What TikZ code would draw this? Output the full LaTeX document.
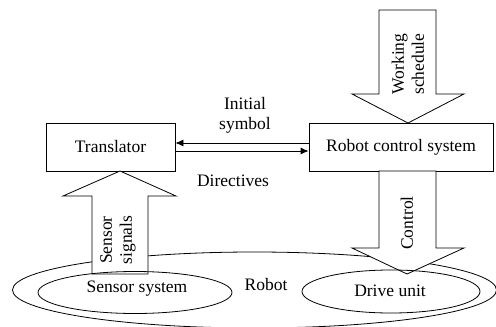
\documentclass[tikz,border=0pt]{standalone}
\usepackage{fontspec}
\setmainfont{Liberation Serif}
\usetikzlibrary{arrows.meta}
\begin{document}
\begin{tikzpicture}[x=1pt,y=-1pt,line width=0.8pt,
  font=\fontsize{17.5}{20}\selectfont,
  box/.style={draw,rectangle,inner sep=0pt,minimum height=48pt,fill=white},
  blockarrow/.style={draw,fill=white,line join=miter},
  lab/.style={inner sep=0pt,align=center},
  link/.style={-{Latex[length=8pt,width=7pt]}}]
\useasboundingbox (0,0) rectangle (496,327);
% outer robot ellipse
\draw (254.5,290) ellipse [x radius=242, y radius=38];
\node[lab] (robot) at (266,285) {Robot};
% boxes
\node[box,minimum width=129pt] (tr) at (110.5,147) {Translator};
\node[box,minimum width=184pt] (rcs) at (401,147) {Robot control system};
% block arrows
\coordinate (wsTip) at (408,123);
\coordinate (ctTip) at (407,274);
\coordinate (ssTip) at (120,171);
\draw[blockarrow] (379,10) -- (436,10) -- (436,94) -- (464,94) -- (wsTip) -- (352,94) -- (379,94) -- cycle;
\draw[blockarrow] (379,171) -- (436,171) -- (436,248) -- (464,248) -- (ctTip) -- (352,248) -- (379,248) -- cycle;
\draw[blockarrow] (92,274) -- (148,274) -- (148,196) -- (176,196) -- (ssTip) -- (63,196) -- (92,196) -- cycle;
\node[lab,rotate=90] (ws) at (408,64) {Working\\schedule};
\node[lab,rotate=90] (ct) at (407,223) {Control};
\node[lab,rotate=90] (sg) at (118,240) {Sensor\\signals};
% inner ellipses
\draw (135,292.5) ellipse [x radius=97, y radius=21];
\node[lab] (ss) at (137,289) {Sensor system};
\draw (391,291.5) ellipse [x radius=89, y radius=21.5];
\node[lab] (du) at (390,291) {Drive unit};
% links between boxes
\draw[link] ([yshift=4pt]rcs.west) -- ([yshift=4pt]tr.east);
\draw[link] ([yshift=-4pt]tr.east) -- ([yshift=-4pt]rcs.west);
\node[lab] (is) at (245,115) {Initial\\symbol};
\node[lab] (dir) at (233,181) {Directives};
\end{tikzpicture}
\end{document}
